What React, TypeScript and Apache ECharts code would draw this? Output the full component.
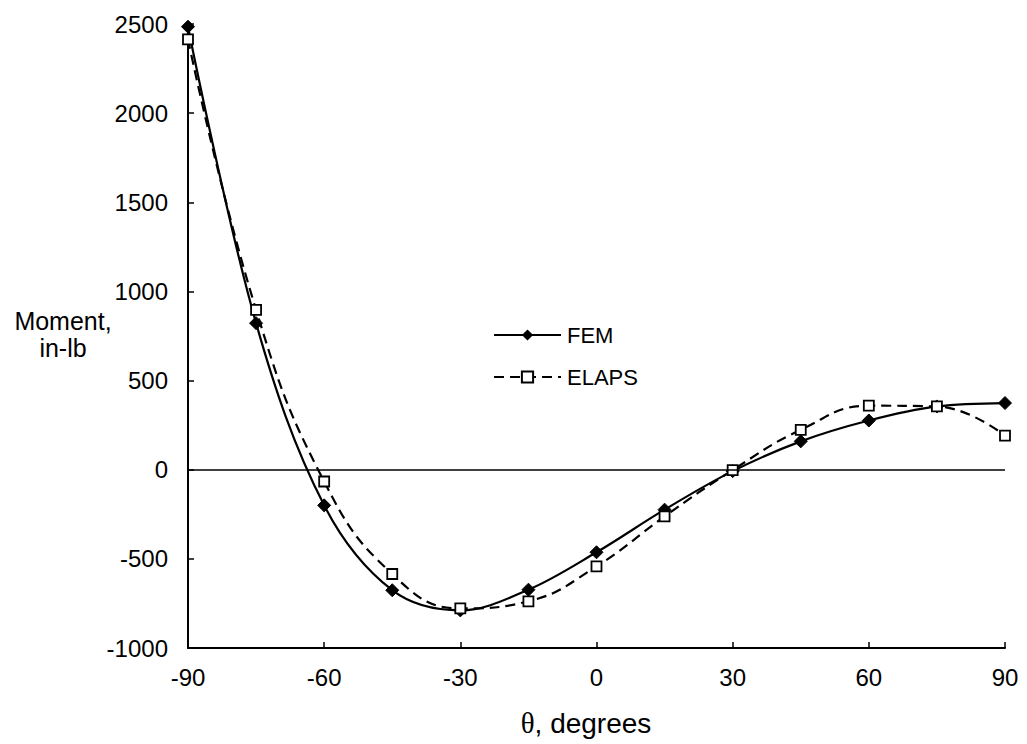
import React, { useEffect, useRef } from "react";
import * as echarts from "echarts";

const thetaDeg = [-90, -75, -60, -45, -30, -15, 0, 15, 30, 45, 60, 75, 90];
const femMoment = [2485, 822, -200, -676, -789, -673, -463, -224, -8, 159, 276, 355, 374];
const elapsMoment = [2414, 897, -66, -585, -778, -738, -542, -262, -2, 224, 359, 355, 191];
const xTicks = [-90, -60, -30, 0, 30, 60, 90];
const yTicks = [-1000, -500, 0, 500, 1000, 1500, 2000, 2500];

const FONT = "'Liberation Sans', Arial, sans-serif";

export default function App() {
  const ref = useRef<HTMLDivElement>(null);
  useEffect(() => {
    if (!ref.current) return;
    const chart = echarts.init(ref.current, null, { renderer: "svg" });
    const fem = thetaDeg.map((t, i) => [t, femMoment[i]]);
    const elaps = thetaDeg.map((t, i) => [t, elapsMoment[i]]);
    chart.setOption({
      animation: false,
      backgroundColor: "#ffffff",
      textStyle: { fontFamily: FONT, color: "#000" },
      grid: { left: 188, right: 22, top: 24, bottom: 96, containLabel: false },
      xAxis: {
        type: "value",
        min: xTicks[0],
        max: xTicks[xTicks.length - 1],
        interval: 30,
        axisLine: { onZero: false, lineStyle: { color: "#000", width: 2 } },
        axisTick: { inside: true, length: 6, lineStyle: { color: "#000", width: 1.5 } },
        axisLabel: {
          color: "#000",
          fontSize: 24,
          fontFamily: FONT,
          margin: 17,
          formatter: (v: number) => String(v),
        },
        splitLine: { show: false },
      },
      yAxis: {
        type: "value",
        min: yTicks[0],
        max: yTicks[yTicks.length - 1],
        interval: 500,
        axisLine: { show: true, onZero: false, lineStyle: { color: "#000", width: 2 } },
        axisTick: { show: true, inside: true, length: 6, lineStyle: { color: "#000", width: 1.5 } },
        axisLabel: {
          color: "#000",
          fontSize: 24,
          fontFamily: FONT,
          margin: 20,
          formatter: (v: number) => String(v),
        },
        splitLine: { show: false },
      },
      legend: {
        orient: "vertical",
        left: 493,
        top: 324,
        padding: 0,
        itemWidth: 67,
        itemHeight: 14,
        itemGap: 20,
        textStyle: { fontSize: 22, fontFamily: FONT, color: "#000", padding: [0, 0, 0, 1] },
        data: ["FEM", "ELAPS"],
      },
      series: [
        {
          name: "FEM",
          type: "line",
          data: fem,
          smooth: 0.35,
          symbol: "diamond",
          symbolSize: 13,
          itemStyle: { color: "#000", borderColor: "#000" },
          lineStyle: { color: "#000", width: 2.2 },
          markLine: {
            silent: true,
            symbol: "none",
            label: { show: false },
            lineStyle: { color: "#000", width: 1.5, type: "solid" },
            data: [{ yAxis: 0 }],
          },
          z: 3,
        },
        {
          name: "ELAPS",
          type: "line",
          data: elaps,
          smooth: 0.45,
          symbol: "rect",
          symbolSize: 10,
          itemStyle: { color: "#fff", borderColor: "#000", borderWidth: 1.8 },
          lineStyle: { color: "#000", width: 2.2, type: [10, 6] },
          z: 4,
        },
      ],
      graphic: [
        {
          type: "text",
          x: 63,
          y: 334,
          style: {
            text: "Moment,\nin-lb",
            fontSize: 25,
            fontFamily: FONT,
            fill: "#000",
            align: "center",
            verticalAlign: "middle",
            lineHeight: 27,
          },
        },
        {
          type: "text",
          x: 586,
          y: 723,
          style: {
            text: "{t|θ}{d|, degrees}",
            fill: "#000",
            align: "center",
            verticalAlign: "middle",
            rich: {
              t: { fontFamily: "'Liberation Serif', 'DejaVu Serif', serif", fontSize: 29, fill: "#000" },
              d: { fontFamily: FONT, fontSize: 28, fill: "#000" },
            },
          },
        },
      ],
    });
    return () => chart.dispose();
  }, []);
  return (
    <div
      ref={ref}
      style={{ position: "fixed", left: 0, top: 0, width: 1027, height: 744, background: "#fff" }}
    />
  );
}
